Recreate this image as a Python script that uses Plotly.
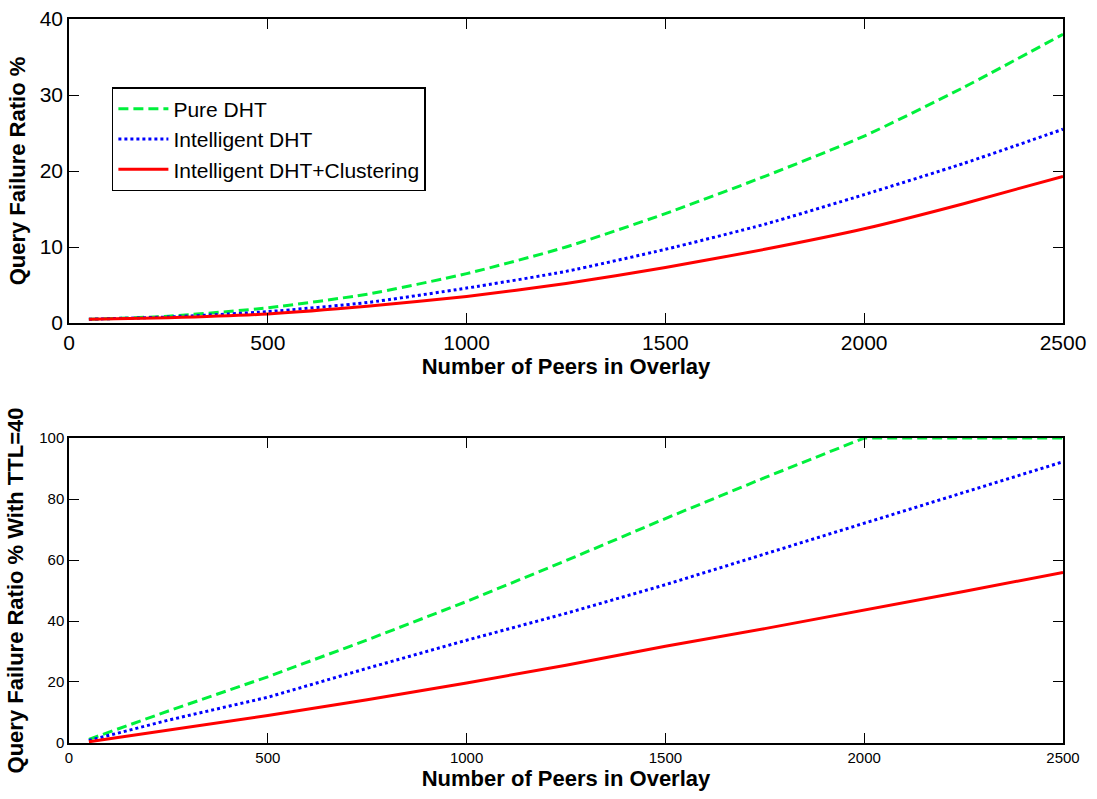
import plotly.graph_objects as go
from plotly.subplots import make_subplots

peers = [50, 250, 500, 750, 1000, 1250, 1500, 1750, 2000, 2250, 2500]

# Top panel: Query Failure Ratio %
pure_top = [0.5, 0.9, 2.0, 3.8, 6.5, 10.0, 14.4, 19.3, 24.6, 31.0, 38.0]
intel_top = [0.5, 0.8, 1.5, 2.7, 4.6, 6.8, 9.7, 13.0, 16.9, 21.0, 25.5]
clust_top = [0.5, 0.7, 1.2, 2.2, 3.5, 5.2, 7.3, 9.7, 12.4, 15.7, 19.3]

# Bottom panel: Query Failure Ratio % with TTL=40
pure_bot = [1.2, 10.5, 21.7, 33.8, 46.4, 59.8, 73.6, 87.0, 100.0, 100.0, 100.0]
intel_bot = [0.8, 7.5, 15.0, 24.5, 33.7, 42.5, 51.9, 62.0, 72.0, 82.0, 92.2]
clust_bot = [0.4, 4.2, 9.0, 14.2, 19.7, 25.5, 31.7, 37.5, 43.5, 49.7, 55.9]

names = ["Pure DHT", "Intelligent DHT", "Intelligent DHT+Clustering"]
colors = ["#00f03c", "#0000ff", "#ff0000"]
dashes = ["10px,5px", "3px,3px", "solid"]

FONT = "Liberation Sans, Arial, sans-serif"

fig = make_subplots(rows=2, cols=1)

for i, ys in enumerate([pure_top, intel_top, clust_top]):
    fig.add_trace(go.Scatter(x=peers, y=ys, mode="lines", name=names[i],
                             line=dict(color=colors[i], width=3, dash=dashes[i],
                                       shape="spline", smoothing=0.6),
                             showlegend=True), row=1, col=1)
for i, ys in enumerate([pure_bot, intel_bot, clust_bot]):
    fig.add_trace(go.Scatter(x=peers, y=ys, mode="lines", name=names[i],
                             line=dict(color=colors[i], width=3, dash=dashes[i]),
                             showlegend=False), row=2, col=1)

axis_common = dict(showline=True, linecolor="black", linewidth=1.5, mirror="ticks",
                   ticks="inside", tickcolor="black", showgrid=False, zeroline=False,
                   automargin=False)

fig.update_xaxes(**axis_common)
fig.update_yaxes(**axis_common)

TITLE_FONT = dict(family=FONT, size=22, color="black")

fig.update_layout(
    xaxis=dict(domain=[0.0629, 0.969], range=[0, 2500], tickvals=[0, 500, 1000, 1500, 2000, 2500],
               ticklen=10, tickfont=dict(family=FONT, size=21, color="black"),
               title=dict(text="<b>Number of Peers in Overlay</b>", standoff=2, font=TITLE_FONT)),
    yaxis=dict(domain=[0.5957, 0.9762], range=[0, 40], tickvals=[0, 10, 20, 30, 40],
               ticklen=10, tickfont=dict(family=FONT, size=21, color="black"),
               title=dict(text="<b>Query Failure Ratio %</b>", standoff=8, font=TITLE_FONT)),
    xaxis2=dict(domain=[0.0629, 0.969], range=[0, 2500], tickvals=[0, 500, 1000, 1500, 2000, 2500],
                ticklen=10, tickfont=dict(family=FONT, size=15, color="black"),
                title=dict(text="<b>Number of Peers in Overlay</b>", standoff=2, font=TITLE_FONT)),
    yaxis2=dict(domain=[0.0701, 0.4518], range=[0, 100], tickvals=[0, 20, 40, 60, 80, 100],
                ticklen=10, tickfont=dict(family=FONT, size=15, color="black"),
                title=dict(text="<b>Query Failure Ratio % With TTL=40</b>", standoff=10, font=TITLE_FONT)),
    legend=dict(x=0.102, y=0.891, xanchor="left", yanchor="top",
                bgcolor="white", bordercolor="black", borderwidth=1.5,
                font=dict(family=FONT, size=21, color="black"),
                tracegroupgap=0, itemwidth=50),
    plot_bgcolor="white", paper_bgcolor="white",
    width=1097, height=799,
    margin=dict(l=0, r=0, t=0, b=0),
)

post = (
    "document.documentElement.style.overflow='hidden';"
    "document.body.style.margin='0';"
    "document.body.style.overflow='hidden';"
)

fig.write_html("out.html", config={"displayModeBar": False}, post_script=post)
